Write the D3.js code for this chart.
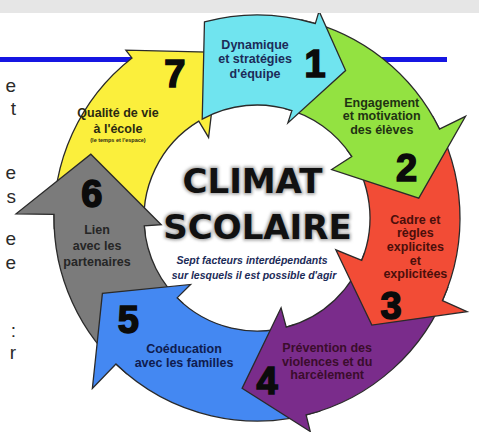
<!DOCTYPE html>
<html><head><meta charset="utf-8">
<script src="https://cdn.jsdelivr.net/npm/d3@7"></script>
<style>html,body{margin:0;padding:0;background:#fff;} svg{display:block;}</style>
</head><body>
<script>
// ---- data ----
const categories = [
  ["Dynamique","et stratégies","d'équipe"],
  ["Engagement","et motivation","des élèves"],
  ["Cadre et","règles","explicites","et","explicitées"],
  ["Prévention des","violences et du","harcèlement"],
  ["Coéducation","avec les familles"],
  ["Lien","avec les","partenaires"],
  ["Qualité de vie","à l'école","(le temps et l'espace)"]
];
const numbers = ["1","2","3","4","5","6","7"];
const colors = ["#70e4ef","#93e241","#f24c36","#7a2c8b","#4488f2","#7b7b7b","#fbef3c"];
const labelColors = ["#1c2b58","#1f3313","#4b0f0b","#3a0d2c","#0f1c4f","#262626","#2b2a12"];
// angular layout of the 7 arrows (degrees clockwise from 12 o'clock)
const headOuterAngle = [16.7, 64, 114, 166, 224, 271, 322];
const headInnerAngle = [18, 57, 112, 165, 225, 266, 329];
const tipAngle = [31, 83, 133, 185, 244, 291, 347];
const headOuterRadius = [216, 232, 230, 220, 237, 241, 213];
const headInnerRadius = [100, 89, 85, 93, 94, 96, 94];
const tipRadius = [172, 163, 157, 171, 172, 178, 170];
const textAngle = [-0.7, 50.8, 100.4, 154, 207.9, 260, 304.9];
const textRadius = [159, 161, 161, 160, 156, 162.4, 169.5];
const numberAngle = [20.6, 71.2, 123, 176.5, 231.7, 278.3, 330.3];
const numberRadius = [165, 158, 160, 163, 164, 167, 166];
const titleLines = ["CLIMAT","SCOLAIRE"];
const subtitleLines = ["Sept facteurs interdépendants","sur lesquels il est possible d'agir"];
const sideGlyphs = ["e","t","e","s","e","e",":","r"];
const sideGlyphY = [85,108,172,196,238,262,330,352];

// ---- layout ----
const W = 479, H = 432;
const cx = 257, cy = 218, R = 203, r = 113;
const lineHeights = [14.5, 13.5, 13.7, 13.5, 13.5, 16, 16];

const svg = d3.select("body").append("svg").attr("width", W).attr("height", H);
const defs = svg.append("defs");
const f = defs.append("filter").attr("id","glow").attr("x","-10%").attr("y","-20%").attr("width","120%").attr("height","140%");
f.append("feGaussianBlur").attr("stdDeviation", 1.6);

const deg = d3.scaleLinear().domain([0, 360]).range([0, 2 * Math.PI]);
const pt = (t, rho) => [cx + rho * Math.sin(deg(t)), cy - rho * Math.cos(deg(t))];
const a = t => deg(t) - Math.PI / 2;

// blue rule behind diagram
svg.append("rect").attr("x", 0).attr("y", 57).attr("width", 447).attr("height", 5).attr("fill", "#1616e2");

// side glyphs (cut-off text)
svg.append("g").selectAll("text").data(sideGlyphs).join("text")
  .attr("x", 16).attr("y", (d, i) => sideGlyphY[i])
  .attr("text-anchor", "end").attr("dominant-baseline", "central")
  .attr("font-family", "Liberation Sans, Arial, sans-serif").attr("font-size", 19)
  .attr("fill", "#2a2a2a").text(d => d);

function arrowPath(i) {
  const p = d3.path();
  const to = i === 0 ? -15 : headOuterAngle[i - 1] - 4;
  const ti = i === 0 ? -29 : headInnerAngle[i - 1] - 4;
  p.moveTo(...pt(to, R));
  p.arc(cx, cy, R, a(to), a(headOuterAngle[i]), false);
  p.lineTo(...pt(headOuterAngle[i], headOuterRadius[i]));
  p.lineTo(...pt(tipAngle[i], tipRadius[i]));
  p.lineTo(...pt(headInnerAngle[i], headInnerRadius[i]));
  p.lineTo(...pt(headInnerAngle[i], r));
  p.arc(cx, cy, r, a(headInnerAngle[i]), a(ti), true);
  p.closePath();
  return p.toString();
}

const order = d3.range(numbers.length).reverse();
svg.append("g").selectAll("path").data(order).join("path")
  .attr("d", i => arrowPath(i))
  .attr("fill", i => colors[i])
  .attr("stroke", "#2a2a2a").attr("stroke-width", 1.3).attr("stroke-linejoin", "miter");

// numbers
svg.append("g").selectAll("text").data(numbers).join("text")
  .attr("x", (d, i) => pt(numberAngle[i], numberRadius[i])[0])
  .attr("y", (d, i) => pt(numberAngle[i], numberRadius[i])[1] + 13.5)
  .attr("text-anchor", "middle")
  .attr("font-family", "Liberation Sans, Arial, sans-serif").attr("font-weight", "bold")
  .attr("font-size", 38).attr("fill", "#0b0b0b").attr("stroke", "#0b0b0b").attr("stroke-width", 1.6)
  .text(d => d);

// labels
const lg = svg.append("g");
categories.forEach((lines, i) => {
  const [x, y] = pt(textAngle[i], textRadius[i]);
  const main = lines.filter(l => !l.startsWith("("));
  const lh = lineHeights[i];
  const n = main.length;
  lines.forEach((l, j) => {
    const small = l.startsWith("(");
    const yy = small ? y + (n - 1) / 2 * lh + 11 : y + (j - (n - 1) / 2) * lh;
    lg.append("text").attr("x", x).attr("y", yy)
      .attr("text-anchor", "middle").attr("dominant-baseline", "central")
      .attr("font-family", "Liberation Sans, Arial, sans-serif").attr("font-weight", "bold")
      .attr("font-size", small ? 5.5 : 12.5).attr("fill", labelColors[i]).text(l);
  });
});

// title
const titleX = [252.5, 257.5], titleY = [193, 239];
const tg = svg.append("g");
titleLines.forEach((t, j) => {
  tg.append("text").attr("x", titleX[j]).attr("y", titleY[j]).attr("text-anchor", "middle")
    .attr("font-family", "DejaVu Sans, sans-serif").attr("font-weight", "bold").attr("font-size", 34)
    .attr("fill", "#9a9a9a").attr("stroke", "#a8a8a8").attr("stroke-width", 3).attr("filter", "url(#glow)").text(t);
  tg.append("text").attr("x", titleX[j]).attr("y", titleY[j]).attr("text-anchor", "middle")
    .attr("font-family", "DejaVu Sans, sans-serif").attr("font-weight", "bold").attr("font-size", 34)
    .attr("fill", "#111").text(t);
});
const subX = [252, 254], subY = [260, 275];
subtitleLines.forEach((t, j) => {
  tg.append("text").attr("x", subX[j]).attr("y", subY[j]).attr("text-anchor", "middle")
    .attr("dominant-baseline", "central")
    .attr("font-family", "Liberation Sans, Arial, sans-serif").attr("font-weight", "bold")
    .attr("font-style", "italic").attr("font-size", 10.5).attr("fill", "#1c2b58").text(t);
});

// top grey band
svg.append("rect").attr("x", 0).attr("y", 0).attr("width", W).attr("height", 13).attr("fill", "#e6e6e6");
</script>
</body></html>
